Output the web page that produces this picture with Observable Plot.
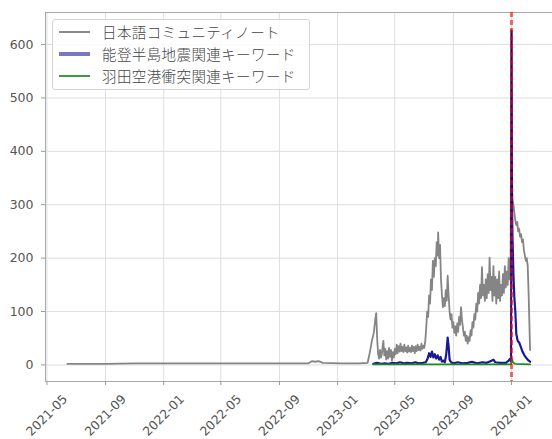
<!DOCTYPE html>
<html><head><meta charset="utf-8">
<script src="https://cdn.jsdelivr.net/npm/d3@7"></script>
<script src="https://cdn.jsdelivr.net/npm/@observablehq/plot@0.6"></script>
<style>
body{margin:0;background:#fff;}
#wrap{position:relative;width:552px;height:439px;overflow:hidden;}
#legend{position:absolute;left:52px;top:19px;width:256px;height:69px;border:1px solid #d4d4d4;border-radius:3px;background:rgba(255,255,255,0.85);font-family:"Noto Sans CJK JP";font-weight:300;font-size:14.5px;letter-spacing:0.4px;color:#444;}
.row{position:absolute;left:0;height:22px;display:flex;align-items:center;line-height:22px;white-space:nowrap;}
.sw{width:31px;margin-left:6px;margin-right:12px;}
</style></head>
<body><div id="wrap"></div>
<script>
// ---- data ----
const seriesNames = ["日本語コミュニティノート", "能登半島地震関連キーワード", "羽田空港衝突関連キーワード"];

const grayDates = ["2021-06-13","2021-07-15","2021-09-01","2021-11-01","2022-01-15","2022-04-01","2022-07-01","2022-09-15","2022-11-01","2022-11-08","2022-11-15","2022-11-22","2022-12-01","2023-01-10","2023-02-15","2023-03-05",
"2023-03-10","2023-03-14","2023-03-18","2023-03-21","2023-03-23","2023-03-25","2023-03-27","2023-03-29","2023-03-31","2023-04-02","2023-04-04","2023-04-07","2023-04-09","2023-04-11","2023-04-13","2023-04-15","2023-04-17","2023-04-19","2023-04-21","2023-04-23","2023-04-25","2023-04-27","2023-04-29",
"2023-05-01","2023-05-03","2023-05-05","2023-05-07","2023-05-09","2023-05-11","2023-05-13","2023-05-15","2023-05-17","2023-05-19","2023-05-21","2023-05-23","2023-05-25","2023-05-27","2023-05-29","2023-05-31",
"2023-06-02","2023-06-04","2023-06-06","2023-06-08","2023-06-10","2023-06-12","2023-06-14","2023-06-16","2023-06-18","2023-06-20","2023-06-22","2023-06-24","2023-06-26","2023-06-28","2023-06-30",
"2023-07-02","2023-07-04","2023-07-06","2023-07-08","2023-07-10","2023-07-12","2023-07-14","2023-07-16","2023-07-18","2023-07-20","2023-07-22","2023-07-24","2023-07-26","2023-07-28","2023-07-30","2023-07-31",
"2023-08-02","2023-08-04","2023-08-06","2023-08-08","2023-08-10","2023-08-12","2023-08-14","2023-08-16","2023-08-18","2023-08-20","2023-08-22","2023-08-24","2023-08-26","2023-08-28","2023-08-30",
"2023-09-01","2023-09-03","2023-09-05","2023-09-07","2023-09-09","2023-09-11","2023-09-13","2023-09-15","2023-09-17","2023-09-19","2023-09-21","2023-09-23","2023-09-25","2023-09-27","2023-09-29",
"2023-10-01","2023-10-03","2023-10-05","2023-10-07","2023-10-09","2023-10-11","2023-10-13","2023-10-15","2023-10-17","2023-10-19","2023-10-21","2023-10-23","2023-10-25","2023-10-27","2023-10-29","2023-10-31",
"2023-11-02","2023-11-04","2023-11-06","2023-11-08","2023-11-10","2023-11-12","2023-11-14","2023-11-16","2023-11-18","2023-11-20","2023-11-22","2023-11-24","2023-11-26","2023-11-28","2023-11-30",
"2023-12-02","2023-12-04","2023-12-06","2023-12-08","2023-12-10","2023-12-12","2023-12-14","2023-12-16","2023-12-18","2023-12-20","2023-12-22","2023-12-24","2023-12-26","2023-12-28","2023-12-30",
"2024-01-01","2024-01-02","2024-01-03","2024-01-05","2024-01-07","2024-01-09","2024-01-11","2024-01-13","2024-01-15","2024-01-17","2024-01-19","2024-01-21","2024-01-23","2024-01-25","2024-01-27","2024-01-29","2024-01-31","2024-02-02","2024-02-04","2024-02-06","2024-02-08","2024-02-09"];
const grayValues = [2,2,2,3,3,3,3,3,3,7,6,7,4,3,3,4,
25,45,60,85,97,50,21,12,28,14,22,45,18,30,10,26,12,32,15,28,8,24,14,
30,20,38,22,35,25,40,26,34,24,38,26,33,23,36,25,
32,24,36,26,34,22,35,26,38,28,34,27,40,30,36,
32,45,70,100,90,130,115,160,140,195,165,200,185,230,205,248,
200,225,160,130,108,125,110,140,120,167,130,100,85,95,70,
80,60,72,55,78,62,90,75,108,85,70,55,62,45,55,
40,52,45,65,55,80,70,95,85,115,100,135,115,150,125,183,
130,150,120,160,125,170,135,201,140,165,120,185,130,165,115,
160,125,175,120,150,130,170,135,185,145,175,150,200,160,190,
628,360,310,300,285,270,262,268,250,255,240,245,230,235,215,205,195,200,185,130,60,28];

const blueDates = ["2023-03-17","2023-03-25","2023-04-02","2023-04-10","2023-04-18","2023-04-26","2023-05-04","2023-05-12","2023-05-20","2023-05-28","2023-06-05","2023-06-13","2023-06-21","2023-06-29","2023-07-05",
"2023-07-09","2023-07-12","2023-07-15","2023-07-18","2023-07-21","2023-07-24","2023-07-27","2023-07-30","2023-08-02","2023-08-05","2023-08-08","2023-08-11","2023-08-14","2023-08-17","2023-08-20","2023-08-22","2023-08-24","2023-08-27",
"2023-09-01","2023-09-10","2023-09-20","2023-10-01","2023-10-10","2023-10-20","2023-11-01","2023-11-10","2023-11-20","2023-11-24","2023-11-28","2023-12-08","2023-12-20","2023-12-26","2023-12-29","2023-12-31",
"2024-01-01","2024-01-02","2024-01-03","2024-01-05","2024-01-07","2024-01-09","2024-01-11","2024-01-14","2024-01-17","2024-01-20","2024-01-24","2024-01-28","2024-02-02","2024-02-06","2024-02-09"];
const blueValues = [2,4,2,3,2,4,3,5,3,4,3,5,3,4,5,
12,22,15,25,14,20,12,18,10,15,6,8,5,20,51,35,10,5,
3,5,3,4,6,3,5,4,8,10,5,4,4,8,12,6,
625,300,240,170,125,100,58,45,42,35,25,18,12,8,6];

const greenDates = ["2023-03-17","2023-06-01","2023-09-01","2023-12-31","2024-01-02","2024-01-04","2024-01-08","2024-02-09"];
const greenValues = [1,1,1,1,10,5,2,1];

const eventDate = ["2024-01-01"];
const xTickDates = ["2021-05-01","2021-09-01","2022-01-01","2022-05-01","2022-09-01","2023-01-01","2023-05-01","2023-09-01","2024-01-01"];
const yTicks = [0,100,200,300,400,500,600];

// ---- build ----
const parse = d3.utcParse("%Y-%m-%d");
const toRows = (ds, vs) => ds.map((d, i) => ({date: parse(d), value: vs[i]}));
const gray = toRows(grayDates, grayValues);
const blue = toRows(blueDates, blueValues);
const green = toRows(greenDates, greenValues);
const xTicks = xTickDates.map(parse);

const chart = Plot.plot({
  width: 552, height: 439,
  marginLeft: 45, marginRight: 0, marginTop: 12, marginBottom: 58,
  style: {fontFamily: "DejaVu Sans", fontSize: "12.5px", background: "#fff", color: "#555"},
  x: {type: "utc", domain: [parse("2021-04-28"), parse("2024-03-27")]},
  y: {domain: [-31, 660]},
  marks: [
    Plot.gridX(xTicks, {stroke: "#dedede", strokeOpacity: 1}),
    Plot.gridY(yTicks, {stroke: "#dedede", strokeOpacity: 1}),
    Plot.frame({stroke: "#aaa"}),
    Plot.axisY(yTicks, {tickSize: 4, tickPadding: 8, label: null, stroke: "#999", fill: "#555"}),
    Plot.axisX(xTicks, {tickFormat: d3.utcFormat("%Y-%m"), tickRotate: -45, textAnchor: "middle", lineAnchor: "middle", tickSize: 4, tickPadding: 30, label: null, stroke: "#999", fill: "#555"}),
    Plot.line(gray, {x: "date", y: "value", stroke: "#858585", strokeWidth: 1.8}),
    Plot.line(blue, {x: "date", y: "value", stroke: "#00008b", strokeWidth: 2.2, strokeOpacity: 0.9}),
    Plot.line(green, {x: "date", y: "value", stroke: "#1f8a1f", strokeWidth: 1.8}),
    Plot.ruleX(eventDate.map(parse), {stroke: "red", strokeOpacity: 0.6, strokeWidth: 3, strokeDasharray: "5,3"})
  ]
});

const wrap = document.getElementById("wrap");
wrap.appendChild(chart);

const legend = document.createElement("div");
legend.id = "legend";
const sw = [
  {color: "#8a8a8a", h: 1.6},
  {color: "#7777c4", h: 4},
  {color: "#3d9a3d", h: 2.5}
];
seriesNames.forEach((name, i) => {
  const row = document.createElement("div");
  row.className = "row";
  row.style.top = (1 + i * 22) + "px";
  const s = document.createElement("div");
  s.className = "sw";
  s.style.height = sw[i].h + "px";
  s.style.background = sw[i].color;
  const t = document.createElement("span");
  t.textContent = name;
  row.appendChild(s); row.appendChild(t);
  legend.appendChild(row);
});
wrap.appendChild(legend);
</script>
</body></html>
